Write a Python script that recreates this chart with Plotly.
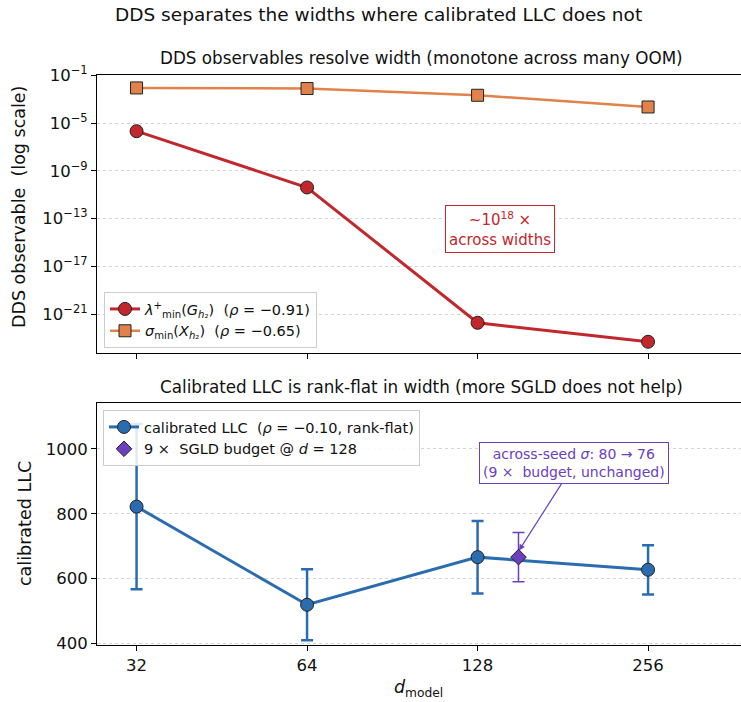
import plotly.graph_objects as go

# ---- data ----
widths = ["32", "64", "128", "256"]
xpos = [0, 1, 2, 3]
lam_min = [2.06e-6, 4.0e-11, 1.86e-22, 4.8e-24]
sigma_min = [8.65e-3, 7.7e-3, 2.1e-3, 2.2e-4]
llc_mean = [822, 519, 666, 627]
llc_err = [255, 110, 112, 76]
sgld9_x = [2.24]
sgld9_mean = [666]
sgld9_err = [76]
log_tick_exps = [-1, -5, -9, -13, -17, -21]
llc_ticks = [400, 600, 800, 1000]

RED = "#C1272D"
ORANGE = "#E0824A"
BLUE = "#2B6CB0"
PURPLE = "#6A40BF"
FONT = "DejaVu Sans"
W, H = 741, 702

def px(x):
    return x / W

def py(y):
    return 1 - y / H

fig = go.Figure()

fig.add_trace(go.Scatter(
    x=xpos, y=lam_min, mode="lines+markers", xaxis="x", yaxis="y", legend="legend",
    name="<i>λ</i><sup>+</sup><sub>min</sub>(<i>G</i><sub><i>h</i>₂</sub>)  (<i>ρ</i> = −0.91)",
    line=dict(color=RED, width=3),
    marker=dict(symbol="circle", size=13, color=RED, line=dict(color="#222222", width=1)),
))
fig.add_trace(go.Scatter(
    x=xpos, y=sigma_min, mode="lines+markers", xaxis="x", yaxis="y", legend="legend",
    name="<i>σ</i><sub>min</sub>(<i>X</i><sub><i>h</i>₂</sub>)  (<i>ρ</i> = −0.65)",
    line=dict(color=ORANGE, width=2.5),
    marker=dict(symbol="square", size=12, color=ORANGE, line=dict(color="#222222", width=1)),
))
fig.add_trace(go.Scatter(
    x=xpos, y=llc_mean, mode="lines+markers", xaxis="x2", yaxis="y2", legend="legend2",
    name="calibrated LLC  (<i>ρ</i> = −0.10, rank-flat)",
    line=dict(color=BLUE, width=3),
    marker=dict(symbol="circle", size=13, color=BLUE, line=dict(color="#222222", width=1)),
    error_y=dict(type="data", array=llc_err, visible=True, color=BLUE, thickness=2.5, width=6),
))
fig.add_trace(go.Scatter(
    x=sgld9_x, y=sgld9_mean, mode="markers", xaxis="x2", yaxis="y2", legend="legend2",
    name="9 ×  SGLD budget @ <i>d</i> = 128",
    marker=dict(symbol="diamond", size=12, color=PURPLE, line=dict(color="#222222", width=1)),
    error_y=dict(type="data", array=sgld9_err, visible=True, color=PURPLE, thickness=1.5, width=6),
))

xdom = [px(97), 1.0]
xrange = [-0.232, 3.545]
tickfont = dict(family=FONT, size=16.5, color="#111111")

common_x = dict(
    domain=xdom, range=xrange, tickvals=xpos, ticktext=widths,
    ticks="outside", ticklen=5, tickwidth=1, tickcolor="black",
    showline=True, linecolor="black", linewidth=1, mirror=True,
    showgrid=False, zeroline=False, tickfont=tickfont,
)
common_y = dict(
    ticks="outside", ticklen=5, tickwidth=1, tickcolor="black",
    showline=True, linecolor="black", linewidth=1,
    showgrid=True, gridcolor="#d4d4d4", griddash="dot", gridwidth=0.8,
    zeroline=False, tickfont=tickfont, automargin=False,
)

legend_common = dict(
    bgcolor="rgba(255,255,255,0.85)", bordercolor="#cccccc", borderwidth=1,
    font=dict(family=FONT, size=14.5, color="#111111"),
    xanchor="left", yanchor="top", itemwidth=30, tracegroupgap=0,
)

fig.update_layout(
    width=W, height=H,
    margin=dict(l=0, r=0, t=0, b=0),
    paper_bgcolor="white", plot_bgcolor="white",
    font=dict(family=FONT, color="#111111"),
    xaxis=dict(**common_x, anchor="y", showticklabels=False, automargin=False),
    yaxis=dict(**common_y, type="log", domain=[py(353), py(75)], range=[-24.26, -0.98],
               tickvals=[10.0 ** e for e in log_tick_exps],
               ticktext=[f"10<sup>−{abs(e)}</sup>" for e in log_tick_exps], anchor="x"),
    xaxis2=dict(**common_x, anchor="y2", automargin=False),
    yaxis2=dict(**common_y, domain=[py(645), py(403)], range=[394.7, 1142],
                tickvals=llc_ticks, anchor="x2"),
    legend=dict(**legend_common, x=px(104), y=py(292)),
    legend2=dict(**legend_common, x=px(103), y=py(410)),
    showlegend=True,
)

annotations = [
    dict(text="DDS separates the widths where calibrated LLC does not", xref="paper", yref="paper",
         x=px(378), y=py(14), showarrow=False, font=dict(family=FONT, size=18.5, color="#111111"),
         xanchor="center", yanchor="middle"),
    dict(text="DDS observables resolve width (monotone across many OOM)", xref="paper", yref="paper",
         x=px(421), y=py(58), showarrow=False, font=dict(family=FONT, size=16.8, color="#111111"),
         xanchor="center", yanchor="middle"),
    dict(text="Calibrated LLC is rank-flat in width (more SGLD does not help)", xref="paper", yref="paper",
         x=px(421), y=py(387), showarrow=False, font=dict(family=FONT, size=16.8, color="#111111"),
         xanchor="center", yanchor="middle"),
    dict(text="DDS observable  (log scale)", xref="paper", yref="paper", textangle=-90,
         x=px(19), y=py(207), showarrow=False, font=dict(family=FONT, size=17.5, color="#111111"),
         xanchor="center", yanchor="middle"),
    dict(text="calibrated LLC", xref="paper", yref="paper", textangle=-90,
         x=px(25), y=py(524), showarrow=False, font=dict(family=FONT, size=17.5, color="#111111"),
         xanchor="center", yanchor="middle"),
    dict(text="<i>d</i><sub>model</sub>", xref="paper", yref="paper",
         x=px(418), y=py(688), showarrow=False, font=dict(family=FONT, size=17.5, color="#111111"),
         xanchor="center", yanchor="middle"),
    dict(text="~10<sup>18</sup> ×<br>across widths", xref="x", yref="y",
         x=2.13, y=-13.85, showarrow=False, font=dict(family=FONT, size=15, color=RED),
         bgcolor="white", bordercolor=RED, borderwidth=1, borderpad=3,
         xanchor="center", yanchor="middle"),
    dict(text="across-seed <i>σ</i>: 80 → 76<br>(9 ×  budget, unchanged)", xref="x2", yref="y2",
         x=sgld9_x[0], y=684, ax=56, ay=-88, showarrow=True, arrowhead=2, arrowsize=1,
         arrowwidth=1.2, arrowcolor=PURPLE, standoff=1,
         font=dict(family=FONT, size=14, color=PURPLE),
         bgcolor="white", bordercolor=PURPLE, borderwidth=1, borderpad=3),
]
fig.update_layout(annotations=annotations)

fig.write_html("out.html", config={"displayModeBar": False},
               post_script="document.body.style.margin='0px';document.body.style.padding='0px';")
